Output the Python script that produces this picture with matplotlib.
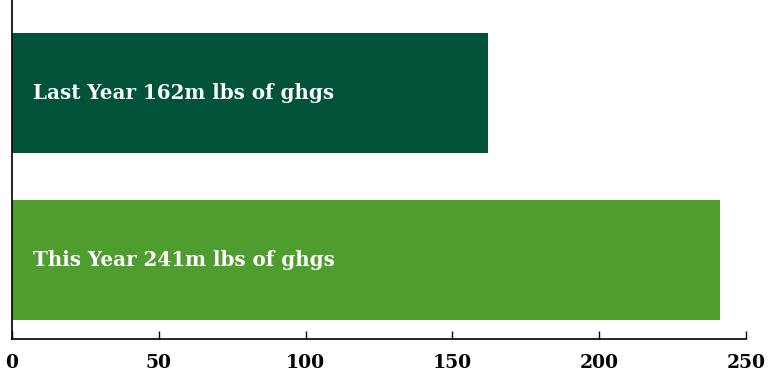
import matplotlib.pyplot as plt

labels = ['This Year 241m lbs of ghgs', 'Last Year 162m lbs of ghgs']
values = [241, 162]
colors = ['#4f9c2f', '#005239']
ticks = [0, 50, 100, 150, 200, 250]

fig = plt.figure(figsize=(7.68, 3.81), dpi=100)
ax = fig.add_axes([12 / 768, 42 / 381, 734 / 768, 339 / 381])

ax.barh(range(len(values)), values, height=0.72, color=colors)
for i, lab in enumerate(labels):
    ax.text(7, i, lab, color='white', va='center', ha='left',
            fontsize=14.3, fontweight='bold', family='DejaVu Serif')

ax.set_xlim(0, 250)
ax.set_ylim(-0.473, 1.557)
ax.set_xticks(ticks)
ax.set_yticks([])
ax.tick_params(axis='x', direction='in', length=6, width=1, pad=11)
for t in ax.get_xticklabels():
    t.set_fontfamily('DejaVu Serif')
    t.set_fontweight('bold')
    t.set_fontsize(13.5)
ax.spines['top'].set_visible(False)
ax.spines['right'].set_visible(False)
ax.spines['left'].set_linewidth(1.2)
ax.spines['bottom'].set_linewidth(1.2)

fig.savefig('out.png', dpi=100)
